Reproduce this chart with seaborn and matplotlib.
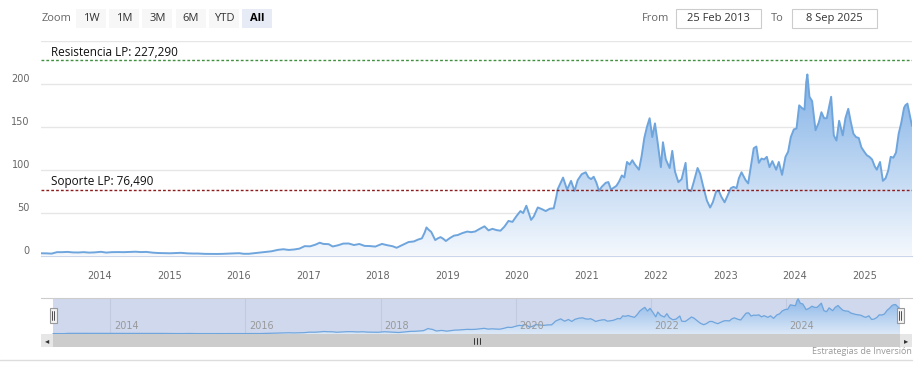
import numpy as np
import pandas as pd
import matplotlib
matplotlib.use("Agg")
import matplotlib.pyplot as plt
import matplotlib.dates as mdates
from matplotlib.patches import Rectangle
from matplotlib.colors import LinearSegmentedColormap
import seaborn as sns

# Datos (cotización semanal aproximada)
fechas = [
    "2013-02-25", "2013-03-25", "2013-04-22", "2013-05-20", "2013-06-17", "2013-07-15",
    "2013-08-12", "2013-09-09", "2013-10-07", "2013-11-04", "2013-12-02", "2014-01-06",
    "2014-02-03", "2014-03-03", "2014-04-07", "2014-05-05", "2014-06-02", "2014-07-07",
    "2014-08-04", "2014-09-02", "2014-10-06", "2014-11-03", "2014-12-01", "2015-01-05",
    "2015-02-02", "2015-03-02", "2015-04-06", "2015-05-04", "2015-06-01", "2015-07-06",
    "2015-08-03", "2015-09-08", "2015-10-05", "2015-11-02", "2015-12-07", "2016-01-04",
    "2016-01-25", "2016-02-22", "2016-03-21", "2016-04-25", "2016-05-23", "2016-06-20",
    "2016-07-25", "2016-08-22", "2016-09-19", "2016-10-17", "2016-11-14", "2016-12-12",
    "2017-01-09", "2017-02-06", "2017-03-01", "2017-03-20", "2017-04-17", "2017-05-08",
    "2017-06-05", "2017-07-03", "2017-07-31", "2017-08-28", "2017-09-25", "2017-10-23",
    "2017-11-20", "2017-12-18", "2018-01-22", "2018-02-19", "2018-03-19", "2018-04-09",
    "2018-05-14", "2018-06-11", "2018-07-09", "2018-07-30", "2018-08-20", "2018-09-04",
    "2018-09-13", "2018-09-24", "2018-10-08", "2018-10-29", "2018-11-12", "2018-11-26",
    "2018-12-10", "2018-12-24", "2019-01-14", "2019-02-04", "2019-02-25", "2019-03-18",
    "2019-04-15", "2019-05-06", "2019-05-27", "2019-06-17", "2019-07-15", "2019-08-05",
    "2019-08-26", "2019-09-16", "2019-10-07", "2019-10-28", "2019-11-18", "2019-12-09",
    "2019-12-30", "2020-01-20", "2020-02-03", "2020-02-20", "2020-03-16", "2020-03-30",
    "2020-04-20", "2020-05-11", "2020-06-01", "2020-06-22", "2020-07-13", "2020-07-27",
    "2020-08-03", "2020-08-17", "2020-08-31", "2020-09-21", "2020-10-12", "2020-10-30",
    "2020-11-16", "2020-12-07", "2020-12-28", "2021-01-11", "2021-01-25", "2021-02-08",
    "2021-02-22", "2021-03-08", "2021-03-22", "2021-04-12", "2021-04-26", "2021-05-10",
    "2021-05-24", "2021-06-07", "2021-06-21", "2021-07-06", "2021-07-19", "2021-08-02",
    "2021-08-16", "2021-08-30", "2021-09-13", "2021-10-04", "2021-10-18", "2021-11-01",
    "2021-11-15", "2021-11-29", "2021-12-13", "2021-12-27", "2022-01-10", "2022-01-27",
    "2022-02-07", "2022-02-22", "2022-03-14", "2022-03-28", "2022-04-11", "2022-04-29",
    "2022-05-16", "2022-06-06", "2022-06-16", "2022-07-05", "2022-07-18", "2022-08-08",
    "2022-08-22", "2022-09-06", "2022-09-26", "2022-10-13", "2022-10-27", "2022-11-14",
    "2022-11-28", "2022-12-12", "2022-12-28", "2023-01-09", "2023-01-30", "2023-02-13",
    "2023-03-01", "2023-03-13", "2023-03-27", "2023-04-17", "2023-05-01", "2023-05-15",
    "2023-05-30", "2023-06-13", "2023-06-26", "2023-07-10", "2023-07-24", "2023-08-07",
    "2023-08-21", "2023-09-05", "2023-09-25", "2023-10-09", "2023-10-26", "2023-11-13",
    "2023-11-27", "2023-12-11", "2023-12-27", "2024-01-10", "2024-01-24", "2024-02-07",
    "2024-02-21", "2024-03-01", "2024-03-07", "2024-03-18", "2024-04-01", "2024-04-19",
    "2024-05-06", "2024-05-20", "2024-06-03", "2024-06-17", "2024-07-10", "2024-07-24",
    "2024-08-07", "2024-08-21", "2024-09-09", "2024-09-23", "2024-10-08", "2024-10-21",
    "2024-11-04", "2024-11-18", "2024-12-02", "2024-12-16", "2024-12-31", "2025-01-13",
    "2025-01-27", "2025-02-10", "2025-02-24", "2025-03-07", "2025-03-24", "2025-04-08",
    "2025-04-22", "2025-05-06", "2025-05-19", "2025-06-02", "2025-06-16", "2025-06-30",
    "2025-07-14", "2025-07-28", "2025-08-04", "2025-08-15", "2025-08-29", "2025-09-08",
]
precios = [
    2.6, 2.5, 2.2, 3.9, 3.9, 4.2,
    3.6, 3.5, 3.9, 3.4, 3.6, 4.3,
    3.4, 3.9, 4.0, 3.9, 4.1, 4.4,
    4.0, 4.2, 3.3, 2.9, 2.8, 2.6,
    2.9, 3.1, 2.5, 2.3, 2.3, 1.9,
    1.8, 1.8, 1.9, 2.2, 2.5, 2.7,
    2.0, 2.0, 2.7, 3.6, 4.4, 4.9,
    6.6, 7.3, 6.5, 7.0, 8.0, 10.9,
    10.7, 12.6, 14.9, 13.5, 13.2, 10.5,
    11.9, 13.9, 14.0, 12.2, 13.4, 11.2,
    11.0, 10.4, 13.5, 12.0, 10.8, 9.0,
    12.8, 15.7, 16.4, 18.5, 20.0, 27.0,
    32.7, 30.1, 27.5, 18.0, 20.0, 21.4,
    19.5, 16.9, 20.3, 23.1, 23.9, 25.9,
    27.9, 27.2, 28.0, 30.7, 34.0, 29.3,
    31.1, 29.6, 28.9, 33.7, 40.3, 39.2,
    45.9, 51.8, 49.4, 58.0, 41.5, 45.5,
    56.0, 54.1, 51.8, 54.5, 55.0, 69.0,
    77.4, 84.0, 90.8, 76.8, 87.0, 75.3,
    87.9, 94.8, 97.0, 91.2, 89.0, 91.8,
    85.0, 75.3, 80.0, 84.7, 85.6, 76.9,
    79.0, 81.1, 86.0, 93.3, 91.0, 109.0,
    106.0, 111.0, 106.0, 100.0, 116.0, 137.0,
    150.0, 160.0, 138.0, 154.0, 132.0, 103.0,
    132.0, 112.0, 102.0, 122.0, 98.0, 85.5,
    89.0, 108.0, 77.0, 75.0, 85.0, 102.0,
    95.0, 81.0, 64.0, 55.9, 62.0, 75.0,
    75.0, 68.0, 62.0, 68.0, 78.5, 80.0,
    78.5, 90.0, 97.0, 88.0, 84.0, 104.0,
    125.0, 127.0, 108.0, 113.0, 112.0, 115.0,
    103.0, 110.0, 100.0, 109.0, 94.0, 115.0,
    121.0, 138.0, 147.0, 148.0, 175.0, 172.0,
    170.0, 202.0, 211.0, 185.0, 180.0, 146.0,
    155.0, 167.0, 160.0, 160.0, 185.0, 140.0,
    134.0, 157.0, 140.0, 160.0, 171.0, 156.0,
    142.0, 138.0, 137.0, 126.0, 121.0, 117.0,
    115.0, 112.0, 104.0, 100.0, 109.0, 87.0,
    90.0, 99.0, 115.0, 114.0, 120.0, 142.0,
    155.0, 172.0, 175.0, 177.0, 162.0, 151.0,
]
resistencia = 227.29
soporte = 76.49
texto_resistencia = "Resistencia LP: 227,290"
texto_soporte = "Soporte LP: 76,490"
ticks_y = [0, 50, 100, 150, 200, 250]
botones_zoom = ["1W", "1M", "3M", "6M", "YTD", "All"]
fecha_desde = "25 Feb 2013"
fecha_hasta = "8 Sep 2025"
credito = "Estrategias de Inversión"

W, H = 923, 375
AZUL = "#6fa5dd"
UI_FONT = ["Open Sans", "DejaVu Sans"]


def caja(x0, y0, x1, y1):
    """Caja en píxeles (origen arriba a la izquierda) -> coords de figura."""
    return [x0 / W, 1 - y1 / H, (x1 - x0) / W, (y1 - y0) / H]


def rect_px(fig, x0, y0, x1, y1, **kw):
    fig.add_artist(Rectangle((x0 / W, 1 - y1 / H), (x1 - x0) / W, (y1 - y0) / H,
                             transform=fig.transFigure, **kw))


def texto_px(fig, x, y, s, **kw):
    fig.text(x / W, 1 - y / H, s, **kw)


def relleno_degradado(ax, x, y, tope, c_arriba, c_abajo):
    poly = ax.fill_between(x, y, 0, color="none", lw=0)
    cmap = LinearSegmentedColormap.from_list("deg", [c_abajo, c_arriba])
    grad = np.linspace(0, 1, 256).reshape(-1, 1)
    xn = mdates.date2num(x)
    im = ax.imshow(grad, cmap=cmap, aspect="auto", origin="lower",
                   extent=[xn.min(), xn.max(), 0, tope], zorder=1)
    im.set_clip_path(poly.get_paths()[0], transform=ax.transData)


sns.set_style("white")
plt.rcParams["font.family"] = ["DejaVu Sans"]

df = pd.DataFrame({"fecha": pd.to_datetime(fechas), "precio": precios})
inicio, fin = df["fecha"].iloc[0], df["fecha"].iloc[-1]

fig = plt.figure(figsize=(9.23, 3.75), dpi=100)

# ---- gráfico principal ----
ax = fig.add_axes(caja(41, 41, 912, 255.5))
relleno_degradado(ax, df["fecha"], df["precio"], 215, "#7fb0e6", "#f4f8fd")
sns.lineplot(data=df, x="fecha", y="precio", ax=ax, color=AZUL, lw=1.4, zorder=3)
ax.set_xlim(inicio, fin)
ax.set_ylim(0, 250)
ax.set_xlabel("")
ax.set_ylabel("")
ax.set_yticks(ticks_y)
ax.set_yticklabels([str(v) for v in ticks_y[:-1]] + [""])
ax.yaxis.grid(True, color="#e6e6e6", lw=1)
ax.xaxis.grid(False)
for lado in ["top", "left", "right"]:
    ax.spines[lado].set_visible(False)
ax.spines["bottom"].set_color("#ccd6eb")
ax.xaxis.set_major_locator(mdates.YearLocator())
ax.xaxis.set_major_formatter(mdates.DateFormatter("%Y"))
ax.tick_params(axis="x", length=8, color="#ccd6eb", pad=3, labelsize=7, labelcolor="#666666")
ax.tick_params(axis="y", length=0, pad=8, labelsize=7, labelcolor="#666666")
for lbl in ax.get_yticklabels():
    lbl.set_va("bottom")

ax.axhline(resistencia, color="#3f8f3f", lw=1, ls=(0, (2, 1.5)), zorder=4)
ax.axhline(soporte, color="#8e1b1b", lw=1, ls=(0, (2, 1.5)), zorder=4)
for valor, txt in [(resistencia, texto_resistencia), (soporte, texto_soporte)]:
    ax.annotate(txt, xy=(0, valor), xycoords=("axes fraction", "data"),
                xytext=(7.2, 1.2), textcoords="offset points", fontsize=8.5,
                va="bottom", ha="left", color="#111111", family=UI_FONT, zorder=5)

# ---- navegador ----
axn = fig.add_axes(caja(41, 298, 912, 334))
margen = pd.Timedelta(days=65)
axn.axvspan(inicio, fin, color="#cfd8ed", lw=0, zorder=0.3)
relleno_degradado(axn, df["fecha"], df["precio"], 215, "#8ab6e8", "#dce8f7")
sns.lineplot(data=df, x="fecha", y="precio", ax=axn, color=AZUL, lw=0.9, zorder=3)
axn.set_xlim(inicio - margen, fin + margen)
axn.set_ylim(0, 216)
axn.set_xlabel("")
axn.set_ylabel("")
axn.set_yticks([])
axn.xaxis.set_major_locator(mdates.YearLocator(2))
axn.xaxis.grid(True, color="#c2cadf", lw=0.8)
axn.tick_params(axis="x", length=0, labelbottom=False)
for lado in ["left", "right", "bottom"]:
    axn.spines[lado].set_visible(False)
axn.spines["top"].set_color("#cccccc")
for anio in range(inicio.year + 1, fin.year + 1, 2):
    axn.annotate(str(anio), xy=(pd.Timestamp(f"{anio}-01-01"), 0),
                 xycoords=("data", "axes fraction"), xytext=(2.5, 2),
                 textcoords="offset points", fontsize=7, color="#999999",
                 ha="left", va="bottom")

# asas del navegador
for xc in (53, 900):
    rect_px(fig, xc - 3.5, 308, xc + 3.5, 323, facecolor="#f2f2f2", edgecolor="#999999", lw=0.8)
    fig.add_artist(plt.Line2D([(xc - 1) / W, (xc - 1) / W], [1 - 311 / H, 1 - 320 / H],
                              color="#333333", lw=0.6, transform=fig.transFigure))
    fig.add_artist(plt.Line2D([(xc + 1) / W, (xc + 1) / W], [1 - 311 / H, 1 - 320 / H],
                              color="#333333", lw=0.6, transform=fig.transFigure))

# barra de desplazamiento
rect_px(fig, 41, 334, 912, 347, facecolor="#cccccc", lw=0)
rect_px(fig, 41, 334, 53, 347, facecolor="#e6e6e6", lw=0)
rect_px(fig, 900, 334, 912, 347, facecolor="#e6e6e6", lw=0)
texto_px(fig, 47, 341, "◂", ha="center", va="center", fontsize=6, color="#333333")
texto_px(fig, 906, 341, "▸", ha="center", va="center", fontsize=6, color="#333333")
for dx in (-3, 0, 3):
    fig.add_artist(plt.Line2D([(477 + dx) / W] * 2, [1 - 338 / H, 1 - 344 / H],
                              color="#333333", lw=0.7, transform=fig.transFigure))

# línea inferior y crédito
fig.add_artist(plt.Line2D([0, 912 / W], [1 - 360 / H] * 2, color="#dddddd", lw=1,
                          transform=fig.transFigure))
texto_px(fig, 912, 352, credito, ha="right", va="center", fontsize=6.5, color="#999999",
         family=UI_FONT)

# ---- selector de rango ----
texto_px(fig, 42, 18.5, "Zoom", ha="left", va="center", fontsize=8, color="#666666", family=UI_FONT)
for i, b in enumerate(botones_zoom):
    x0 = 76 + i * 33.2
    activo = b == "All"
    rect_px(fig, x0, 9, x0 + 30, 28, facecolor="#e6ebf5" if activo else "#f7f7f7", lw=0)
    texto_px(fig, x0 + 15, 18.5, b, ha="center", va="center", fontsize=8,
             color="#000000" if activo else "#333333",
             fontweight="bold" if activo else "normal", family=UI_FONT)

texto_px(fig, 642, 18.5, "From", ha="left", va="center", fontsize=8, color="#666666", family=UI_FONT)
rect_px(fig, 676, 9, 761, 28, facecolor="white", edgecolor="#cccccc", lw=0.8)
texto_px(fig, 718.5, 18.5, fecha_desde, ha="center", va="center", fontsize=8, color="#333333", family=UI_FONT)
texto_px(fig, 771, 18.5, "To", ha="left", va="center", fontsize=8, color="#666666", family=UI_FONT)
rect_px(fig, 792, 9, 877, 28, facecolor="white", edgecolor="#cccccc", lw=0.8)
texto_px(fig, 834.5, 18.5, fecha_hasta, ha="center", va="center", fontsize=8, color="#333333", family=UI_FONT)

fig.savefig("out.png", dpi=100)
